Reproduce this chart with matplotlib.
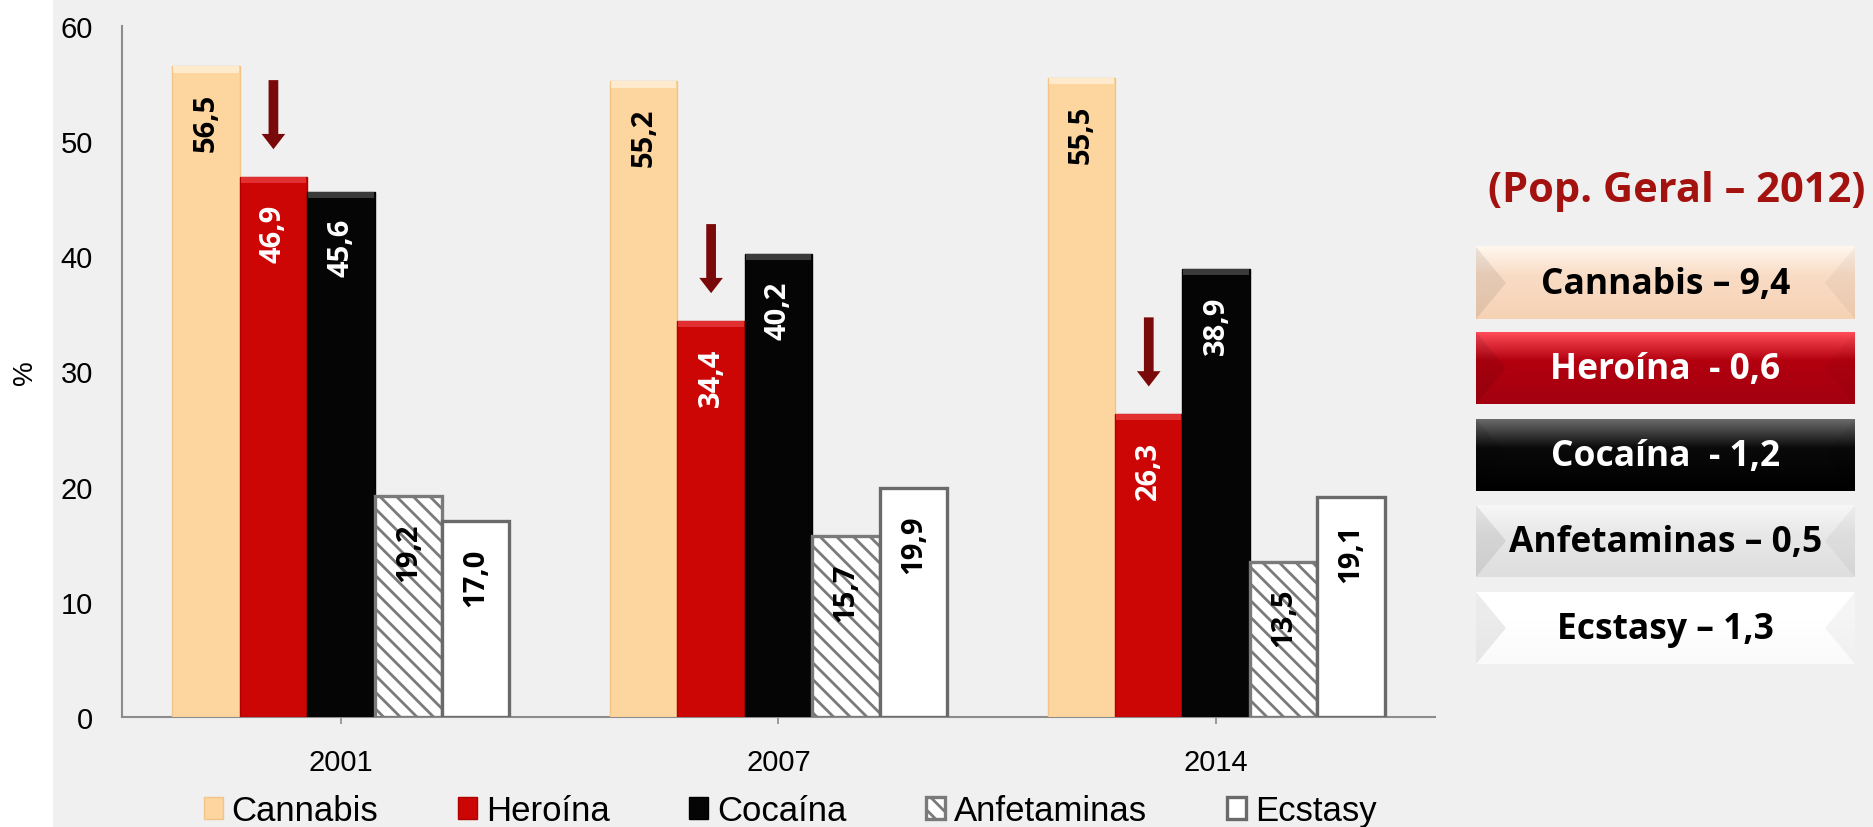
import matplotlib
matplotlib.use('Agg')
import matplotlib.pyplot as plt
import numpy as np
from matplotlib.patches import Polygon, Rectangle
from matplotlib.colors import to_rgb

# ---------------- data ----------------
years = ['2001', '2007', '2014']
series = ['Cannabis', 'Heroína', 'Cocaína', 'Anfetaminas', 'Ecstasy']
cannabis = [56.5, 55.2, 55.5]
heroina = [46.9, 34.4, 26.3]
cocaina = [45.6, 40.2, 38.9]
anfetaminas = [19.2, 15.7, 13.5]
ecstasy = [17.0, 19.9, 19.1]
yticks = [0, 10, 20, 30, 40, 50, 60]
panel_title = '(Pop. Geral – 2012)'
panel_labels = ['Cannabis – 9,4', 'Heroína  - 0,6', 'Cocaína  - 1,2',
                'Anfetaminas – 0,5', 'Ecstasy – 1,3']

values = [cannabis, heroina, cocaina, anfetaminas, ecstasy]

# ---------------- style ----------------
BG = '#f0f0f0'
face = ['#fdd59f', '#cc0505', '#050505', '#ffffff', '#ffffff']
edge = ['#f3c387', '#b00000', '#000000', '#7a7a7a', '#6a6a6a']
cap = ['#feeacc', '#e23030', '#3a3a3a', None, None]
hatches = [None, None, None, '\\\\', None]
lab_col = ['black', 'white', 'white', 'black', 'black']
TICK_FONT = ['Liberation Sans', 'DejaVu Sans']
LEG_FONT = ['Liberation Sans', 'DejaVu Sans']
BOLD_FONT = ['Open Sans', 'DejaVu Sans']

plt.rcParams['hatch.linewidth'] = 2.0

W, H = 1874, 828
fig = plt.figure(figsize=(W / 100, H / 100), dpi=100, facecolor=BG)
fig.patches.append(Rectangle((0, 0), 53 / W, 1, transform=fig.transFigure,
                             facecolor='white', edgecolor='none', zorder=-5))

ax_l, ax_r, ax_b, ax_t = 122, 1435, 718, 27
ax = fig.add_axes([ax_l / W, 1 - ax_b / H, (ax_r - ax_l) / W, (ax_b - ax_t) / H])
ax.set_facecolor(BG)

x = np.arange(len(years))
bw = 0.154
containers = []
for i, (name, vals) in enumerate(zip(series, values)):
    off = (i - 2) * bw
    lw = 2.4 if i >= 3 else 1.0
    c = ax.bar(x + off, vals, width=bw, color=face[i], edgecolor=edge[i],
               linewidth=lw, hatch=hatches[i], label=name, zorder=3)
    containers.append(c)
    if cap[i] is not None:
        # light bevel cap on top of solid bars
        ax.bar(x + off, [0.55] * len(vals), bottom=np.array(vals) - 0.55,
               width=bw * 0.97, color=cap[i], edgecolor='none', zorder=4)
    for xi, v in zip(x, vals):
        ax.annotate(f'{v:.1f}'.replace('.', ','), xy=(xi + off, v),
                    xytext=(0, -19), textcoords='offset points',
                    rotation=90, ha='center', va='top', fontsize=21,
                    fontweight='bold', color=lab_col[i], family=BOLD_FONT,
                    zorder=5)

# arrows above Heroína bars
for xi, v in zip(x, heroina):
    ax.annotate('', xy=(xi - bw, v + 2.4), xytext=(xi - bw, v + 8.4),
                arrowprops=dict(facecolor='#7a0a0a', edgecolor='none',
                                width=7, headwidth=17, headlength=11, shrink=0),
                annotation_clip=False, zorder=6)

ax.set_xlim(-0.5, 2.5)
ax.set_ylim(0, 60)
ax.set_yticks(yticks)
ax.set_yticklabels([str(t) for t in yticks])
ax.set_xticks(x)
ax.set_xticklabels(years)
for s in ['top', 'right']:
    ax.spines[s].set_visible(False)
for s in ['left', 'bottom']:
    ax.spines[s].set_color('#8c8c8c')
    ax.spines[s].set_linewidth(1.5)
ax.tick_params(axis='y', length=0, pad=21)
ax.tick_params(axis='x', length=5, width=1.2, color='#8c8c8c', pad=17)
for t in ax.get_yticklabels() + ax.get_xticklabels():
    t.set_family(TICK_FONT)
    t.set_fontsize(21)
ax.set_ylabel('%', fontsize=20, family=LEG_FONT)
ax.yaxis.set_label_coords(-(ax_l - 38) / (ax_r - ax_l), 0.5)

leg = fig.legend(handles=containers, labels=series, loc='center',
                 bbox_to_anchor=(790 / W, 1 - 812 / H), ncol=5, frameon=False,
                 prop={'family': LEG_FONT, 'size': 25}, handlelength=0.55,
                 handleheight=0.6, handletextpad=0.25, columnspacing=2.3)

# ---------------- right panel ----------------
ov = fig.add_axes([0, 0, 1, 1], zorder=10)
ov.set_xlim(0, W)
ov.set_ylim(H, 0)
ov.axis('off')
ov.patch.set_alpha(0)

ov.text(1677, 192, panel_title, ha='center', va='center', fontsize=30,
        fontweight='bold', color='#a3120f', family=BOLD_FONT)

grads = [
    ['#fff7ee', '#f9dcc5', '#f6d2b4'],
    ['#ff4c58', '#b3000f', '#a30010'],
    ['#6a6a6a', '#0a0a0a', '#000000'],
    ['#f7f7f7', '#e8e8e8', '#dedede'],
    ['#ffffff', '#ffffff', '#fafafa'],
]
txt_col = ['black', 'white', 'white', 'black', 'black']
bx0, bx1, bh = 1476, 1855, 72
tops = [248, 333, 420, 506, 593]
for k, (lbl, top) in enumerate(zip(panel_labels, tops)):
    g = grads[k]
    n = 100
    t = np.linspace(0, 1, n)
    c0, c1, c2 = (np.array(to_rgb(c)) for c in g)
    arr = np.zeros((n, 1, 3))
    for j, tt in enumerate(t):
        if tt < 0.4:
            f = tt / 0.4
            arr[j, 0] = c0 * (1 - f) + c1 * f
        else:
            f = (tt - 0.4) / 0.6
            arr[j, 0] = c1 * (1 - f) + c2 * f
    ov.imshow(arr, extent=(bx0, bx1, top + bh, top), aspect='auto',
              interpolation='bilinear', zorder=1)
    mid = top + bh / 2
    ov.add_patch(Polygon([(bx0, top), (bx0 + 30, mid), (bx0, top + bh)],
                         closed=True, facecolor='black', alpha=0.08,
                         edgecolor='none', zorder=2))
    ov.add_patch(Polygon([(bx1, top), (bx1 - 30, mid), (bx1, top + bh)],
                         closed=True, facecolor='black', alpha=0.04,
                         edgecolor='none', zorder=2))
    ov.text((bx0 + bx1) / 2, mid + 1, lbl, ha='center', va='center',
            fontsize=25.5, fontweight='bold', color=txt_col[k],
            family=BOLD_FONT, zorder=3)

fig.savefig('out.png', dpi=100, facecolor=BG)
